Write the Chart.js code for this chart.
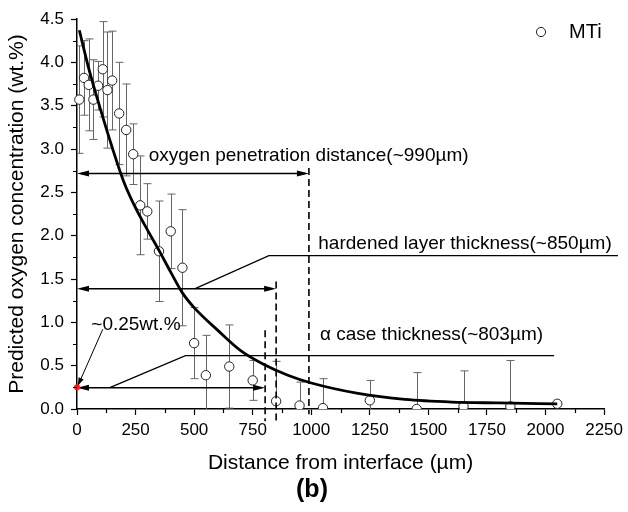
<!DOCTYPE html>
<html>
<head>
<meta charset="utf-8">
<script src="https://cdn.jsdelivr.net/npm/chart.js@4/dist/chart.umd.min.js"></script>
<style>
html,body{margin:0;padding:0;background:#fff;}
canvas{display:block;}
</style>
</head>
<body>
<canvas id="c" width="628" height="512"></canvas>
<script>
// ---- data ----
const distances = [10, 30, 50, 70, 90, 110, 130, 150, 180, 210, 240, 270, 300, 350, 400, 450, 500, 550, 650, 750, 850, 950, 1050, 1250, 1450, 1650, 1850, 2050];
const oxygen    = [3.57, 3.82, 3.74, 3.57, 3.73, 3.92, 3.68, 3.79, 3.41, 3.22, 2.94, 2.35, 2.28, 1.82, 2.05, 1.63, 0.76, 0.39, 0.49, 0.33, 0.09, 0.04, 0.01, 0.10, 0.00, 0.03, 0.03, 0.06];
const oxygenErr = [0.62, 0.43, 0.53, 0.46, 0.28, 0.55, 0.67, 0.57, 0.59, 0.53, 0.35, 0.57, 0.32, 0.58, 0.43, 0.67, 0.41, 0.46, 0.48, 0.23, 0.46, 0.27, 0.34, 0.23, 0.42, 0.41, 0.53, 0.02];
const fitX = [10, 50, 100, 150, 200, 250, 300, 350, 400, 450, 500, 600, 700, 800, 900, 1000, 1200, 1400, 1600, 1800, 2050];
const fitY = [4.37, 3.93, 3.46, 3.02, 2.62, 2.32, 2.07, 1.83, 1.58, 1.34, 1.17, 0.91, 0.67, 0.51, 0.39, 0.30, 0.18, 0.11, 0.08, 0.07, 0.06];
const xTicks = [0, 250, 500, 750, 1000, 1250, 1500, 1750, 2000, 2250];
const yTicks = [0, 0.5, 1.0, 1.5, 2.0, 2.5, 3.0, 3.5, 4.0, 4.5];
const seriesName = 'MTi';
const penetration = 990, hardened = 850, alphaCase = 803, surfaceLevel = 0.25;

const FONT = "'Liberation Sans', Arial, sans-serif";
Chart.defaults.font.family = FONT;
Chart.defaults.color = '#000';

const points = distances.map((d, i) => ({x: d, y: oxygen[i]}));
const fit = fitX.map((d, i) => ({x: d, y: fitY[i]}));

const errorBars = {
  id: 'errorBars',
  beforeDatasetsDraw(chart) {
    const {ctx, chartArea: a, scales: {x, y}} = chart;
    ctx.save();
    ctx.beginPath(); ctx.rect(a.left, a.top - 5, a.right - a.left, a.bottom - a.top + 5); ctx.clip();
    ctx.strokeStyle = '#666'; ctx.lineWidth = 1;
    distances.forEach((d, i) => {
      const px = Math.round(x.getPixelForValue(d)) + 0.5;
      const top = y.getPixelForValue(oxygen[i] + oxygenErr[i]);
      const bot = y.getPixelForValue(oxygen[i] - oxygenErr[i]);
      ctx.beginPath();
      ctx.moveTo(px, top); ctx.lineTo(px, bot);
      ctx.moveTo(px - 4, top); ctx.lineTo(px + 4, top);
      ctx.moveTo(px - 4, bot); ctx.lineTo(px + 4, bot);
      ctx.stroke();
    });
    ctx.restore();
  }
};

function arrowHead(ctx, x, y, ang, len, hw) {
  ctx.save();
  ctx.translate(x, y); ctx.rotate(ang);
  ctx.beginPath(); ctx.moveTo(0, 0); ctx.lineTo(-len, -hw); ctx.lineTo(-len, hw); ctx.closePath();
  ctx.fill();
  ctx.restore();
}

const annotations = {
  id: 'annotations',
  afterDatasetsDraw(chart) {
    const {ctx, scales: {x, y}} = chart;
    const X = v => x.getPixelForValue(v), Y = v => y.getPixelForValue(v);
    ctx.save();
    ctx.fillStyle = '#000'; ctx.strokeStyle = '#000';

    // dashed verticals
    ctx.setLineDash([7, 4]); ctx.lineWidth = 1.6;
    [[penetration, 2.78, -0.06], [hardened, 1.47, -0.14], [alphaCase, 0.91, -0.14]].forEach(([v, t, b]) => {
      ctx.beginPath(); ctx.moveTo(X(v), Y(t)); ctx.lineTo(X(v), Y(b)); ctx.stroke();
    });
    ctx.setLineDash([]);

    // double arrows
    ctx.lineWidth = 1.4;
    [[2.717, penetration], [1.387, hardened], [0.246, alphaCase]].forEach(([lv, end]) => {
      const yy = Y(lv);
      ctx.beginPath(); ctx.moveTo(X(0) + 4, yy); ctx.lineTo(X(end) - 4, yy); ctx.stroke();
      arrowHead(ctx, X(0), yy, Math.PI, 12, 3);
      arrowHead(ctx, X(end), yy, 0, 12, 3);
    });

    // connector lines
    ctx.lineWidth = 1.3;
    ctx.beginPath();
    ctx.moveTo(X(502), Y(1.387)); ctx.lineTo(X(819), Y(1.77)); ctx.lineTo(X(2309), Y(1.77));
    ctx.moveTo(X(140), Y(0.246)); ctx.lineTo(X(463), Y(0.615)); ctx.lineTo(X(2037), Y(0.615));
    ctx.stroke();

    // texts
    ctx.font = '19px ' + FONT; ctx.textBaseline = 'alphabetic'; ctx.textAlign = 'left';
    ctx.fillText('oxygen penetration distance(~990µm)', X(306), Y(2.857));
    ctx.fillText('hardened layer thickness(~850µm)', X(1030), Y(1.85));
    ctx.fillText('α case thickness(~803µm)', X(1037), Y(0.80));
    ctx.fillText('~0.25wt.%', X(61), Y(0.913));

    // small arrow to surface point
    ctx.lineWidth = 1;
    const sx = X(110), sy = Y(0.92), ex = X(4), ey = Y(0.27);
    ctx.beginPath(); ctx.moveTo(sx, sy); ctx.lineTo(ex, ey); ctx.stroke();
    arrowHead(ctx, ex, ey, Math.atan2(ey - sy, ex - sx), 8, 2.8);

    // red surface point
    ctx.fillStyle = '#ff1a1a';
    ctx.beginPath(); ctx.arc(X(0), Y(surfaceLevel), 3, 0, Math.PI * 2); ctx.fill();

    ctx.restore();
  },
  afterDraw(chart) {
    const {ctx, chartArea: a, scales: {x, y}} = chart;
    ctx.save();
    ctx.strokeStyle = '#000'; ctx.lineWidth = 1.2;
    // minor ticks
    ctx.beginPath();
    for (let i = 0; i < xTicks.length - 1; i++) {
      const px = Math.round(x.getPixelForValue((xTicks[i] + xTicks[i + 1]) / 2)) + 0.5;
      ctx.moveTo(px, a.bottom); ctx.lineTo(px, a.bottom + 4);
    }
    for (let i = 0; i < yTicks.length - 1; i++) {
      const py = Math.round(y.getPixelForValue((yTicks[i] + yTicks[i + 1]) / 2)) + 0.5;
      ctx.moveTo(a.left, py); ctx.lineTo(a.left - 4, py);
    }
    ctx.stroke();
    // legend
    ctx.fillStyle = '#fff'; ctx.strokeStyle = '#222'; ctx.lineWidth = 1;
    ctx.beginPath(); ctx.arc(541, 32, 4.6, 0, Math.PI * 2); ctx.fill(); ctx.stroke();
    ctx.fillStyle = '#000'; ctx.font = '20px ' + FONT; ctx.textBaseline = 'middle'; ctx.textAlign = 'left';
    ctx.fillText(seriesName, 569, 32);
    // panel label
    ctx.font = 'bold 25px ' + FONT; ctx.textAlign = 'center';
    ctx.fillText('(b)', 312, 490);
    ctx.restore();
  }
};

new Chart(document.getElementById('c'), {
  type: 'scatter',
  data: {
    datasets: [
      {
        type: 'line', label: 'fit', data: fit, order: 0,
        borderColor: '#000', borderWidth: 2.8, pointRadius: 0, fill: false,
        cubicInterpolationMode: 'monotone'
      },
      {
        label: seriesName, data: points, order: 1,
        pointRadius: 4.7, pointBackgroundColor: '#fff', pointBorderColor: '#222', pointBorderWidth: 1,
        clip: {left: 6, top: 6, right: 6, bottom: 0}
      }
    ]
  },
  options: {
    responsive: false,
    animation: false,
    devicePixelRatio: 1,
    layout: {padding: {left: 0, right: 22, top: 19, bottom: 0}},
    plugins: {legend: {display: false}, tooltip: {enabled: false}, title: {display: false}},
    scales: {
      x: {
        type: 'linear', min: 0, max: 2250,
        afterFit: s => { s.height = 103; },
        afterBuildTicks: s => { s.ticks = xTicks.map(v => ({value: v})); },
        ticks: {font: {size: 17}, color: '#000', padding: 5, maxRotation: 0, callback: v => String(v)},
        grid: {drawOnChartArea: false, drawTicks: true, tickLength: 6, tickColor: '#000', tickWidth: 1.2},
        border: {display: true, color: '#000', width: 1.5},
        title: {display: true, text: 'Distance from interface (µm)', font: {size: 21}, color: '#000', padding: {top: 0, bottom: 36}}
      },
      y: {
        type: 'linear', min: 0, max: 4.5,
        afterFit: s => { s.width = 77; },
        afterBuildTicks: s => { s.ticks = yTicks.map(v => ({value: v})); },
        ticks: {font: {size: 17}, color: '#000', padding: 7, callback: v => Number(v).toFixed(1)},
        grid: {drawOnChartArea: false, drawTicks: true, tickLength: 6, tickColor: '#000', tickWidth: 1.2},
        border: {display: true, color: '#000', width: 1.5},
        title: {display: true, text: 'Predicted oxygen concentration (wt.%)', font: {size: 21}, color: '#000', padding: {top: 5, bottom: 0}}
      }
    }
  },
  plugins: [errorBars, annotations]
});
</script>
</body>
</html>
